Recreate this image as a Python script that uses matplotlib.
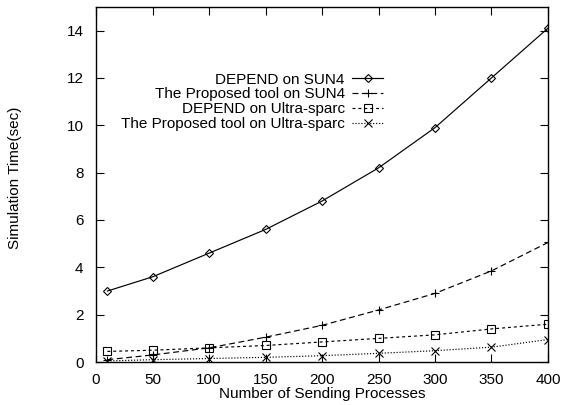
import matplotlib
matplotlib.use('Agg')
import matplotlib.pyplot as plt

plt.rcParams['font.family'] = ['Liberation Sans', 'DejaVu Sans']

procs = [10, 50, 100, 150, 200, 250, 300, 350, 400]
depend_sun4 = [3.0, 3.6, 4.6, 5.6, 6.8, 8.2, 9.9, 12.0, 14.1]
tool_sun4 = [0.1, 0.3, 0.6, 1.05, 1.55, 2.2, 2.9, 3.85, 5.05]
depend_ultra = [0.45, 0.5, 0.6, 0.7, 0.85, 1.0, 1.15, 1.4, 1.6]
tool_ultra = [0.05, 0.1, 0.15, 0.2, 0.27, 0.37, 0.48, 0.63, 0.95]

labels = ['DEPEND on SUN4', 'The Proposed tool on SUN4',
          'DEPEND on Ultra-sparc', 'The Proposed tool on Ultra-sparc']

fig = plt.figure(figsize=(5.62, 4.05), dpi=100)
ax = fig.add_axes([0.171, 0.106, 0.804, 0.877])

lw = 0.85
ax.plot(procs, depend_sun4, color='black', lw=lw, ls='-', marker='D',
        ms=4.5, mew=0.8, fillstyle='none', label=labels[0])
ax.plot(procs, tool_sun4, color='black', lw=lw, ls=(0, (5, 3)), marker='+',
        ms=6, mew=0.8, label=labels[1])
ax.plot(procs, depend_ultra, color='black', lw=lw, ls=(0, (2.5, 2.5)), marker='s',
        ms=6, mew=0.8, fillstyle='none', label=labels[2])
ax.plot(procs, tool_ultra, color='black', lw=lw, ls=(0, (1, 1.5)), marker='x',
        ms=5.5, mew=0.8, label=labels[3])

ax.set_xlim(0, 400)
ax.set_ylim(0, 15)
ax.set_xticks(range(0, 401, 50))
ax.set_yticks(range(0, 15, 2))
ax.tick_params(direction='in', length=6, width=0.8, top=True, right=True,
               labelsize=11)
ax.tick_params(axis='y', pad=9)
ax.tick_params(axis='x', pad=8)
for s in ax.spines.values():
    s.set_linewidth(1.0)

ax.set_xlabel('Number of Sending Processes', fontsize=11, labelpad=0)
ax.set_ylabel('Simulation Time(sec)', fontsize=11)
ax.yaxis.set_label_coords(-0.164, 0.518)

ax.legend(loc='upper right', bbox_to_anchor=(0.635, 0.815), frameon=False,
          markerfirst=False, fontsize=11, handlelength=2.0, handletextpad=0.5,
          labelspacing=0.05, borderaxespad=0, borderpad=0)

fig.savefig('out.png', dpi=100)
